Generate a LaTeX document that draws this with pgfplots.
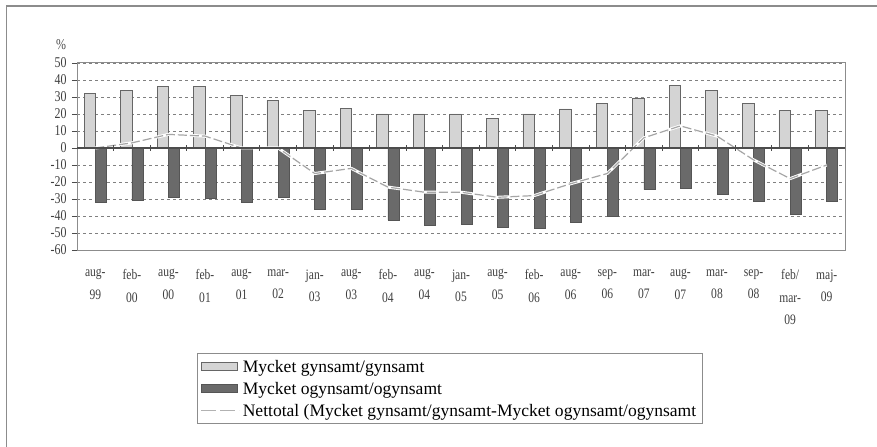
\documentclass[border=0pt]{standalone}
\usepackage{pgfplots}
\pgfplotsset{compat=1.18}
\usepackage{fontspec}
\setmainfont{Liberation Serif}
\newfontfamily\narrowfont[FakeStretch=0.8]{Liberation Serif}
\definecolor{lightbar}{HTML}{D4D4D4}
\definecolor{darkbar}{HTML}{6A6A6A}
\definecolor{frame}{HTML}{8C8C8C}
\begin{document}
\begin{tikzpicture}
\path[use as bounding box] (0bp,0bp) rectangle (877bp,447bp);
\draw[frame, line width=1.5bp] (6.5bp,0bp) -- (6.5bp,441bp) -- (877bp,441bp);
\node[font=\narrowfont\fontsize{15}{15}\selectfont, text=black!70] at (61bp,402bp) {\%};
\begin{axis}[
  at={(77bp,197bp)}, anchor=south west,
  scale only axis, width=768bp, height=187bp,
  xmin=-0.5, xmax=20.5, ymin=-60, ymax=50,
  axis line style={frame, line width=1bp},
  xtick={0,...,20},
  xticklabels={aug-\\99, feb-\\00, aug-\\00, feb-\\01, aug-\\01, mar-\\02,
    jan-\\03, aug-\\03, feb-\\04, aug-\\04, jan-\\05, aug-\\05, feb-\\06,
    aug-\\06, sep-\\06, mar-\\07, aug-\\07, mar-\\08, sep-\\08,
    feb/\\mar-\\09, maj-\\09},
  major x tick style={draw=none},
  xticklabel style={align=center, font=\narrowfont\fontsize{14.5}{22.5}\selectfont,
    text=black!75, yshift=-11bp},
  ytick={-60,-50,...,50},
  yticklabels={-60,-50,-40,-30,-20,-10,0,10,20,30,40,50},
  yticklabel style={font=\narrowfont\fontsize{15}{15}\selectfont, text=black!75, xshift=-2bp},
  ytick pos=left, tick align=outside, major tick length=5bp,
  major y tick style={black!70, line width=0.8bp},
  ymajorgrids, grid style={gray, line width=0.8bp, dash pattern=on 3bp off 3bp},
  legend style={at={(0.156,-0.551)}, anchor=north west, draw=frame,
    line width=1.2bp, font=\fontsize{17.6}{17.6}\selectfont,
    inner sep=3bp, row sep=2bp, nodes={inner sep=3.2bp}},
  legend cell align=left,
]
\addplot[ybar, bar width=11.5bp, bar shift=-5.5bp, fill=lightbar,
  draw=gray!80!black, line width=0.6bp,
  legend image code/.code={\draw[fill=lightbar, draw=gray!80!black, line width=0.6bp]
    (0bp,-4bp) rectangle (36bp,4bp);}]
  coordinates {(0,32) (1,34) (2,36) (3,36) (4,31) (5,28) (6,22) (7,23.5)
    (8,20) (9,20) (10,20) (11,17.5) (12,20) (13,23) (14,26) (15,29.5)
    (16,37) (17,34) (18,26) (19,22) (20,22)};
\addlegendentry{Mycket gynsamt/gynsamt}
\addplot[ybar, bar width=11bp, bar shift=5.5bp, fill=darkbar,
  draw=darkbar!80!black, line width=0.6bp,
  legend image code/.code={\draw[fill=darkbar, draw=darkbar!80!black, line width=0.6bp]
    (0bp,-4bp) rectangle (36bp,4bp);}]
  coordinates {(0,-32) (1,-31) (2,-29) (3,-29.5) (4,-32) (5,-29) (6,-36)
    (7,-36) (8,-42.5) (9,-45.5) (10,-45) (11,-46.5) (12,-47) (13,-44)
    (14,-40) (15,-24.5) (16,-23.5) (17,-27) (18,-31.5) (19,-39) (20,-31.5)};
\addlegendentry{Mycket ogynsamt/ogynsamt}
\addplot[sharp plot, white, line width=3bp, forget plot]
  coordinates {(0,0) (1,3) (2,8) (3,7) (4,0) (5,0) (6,-15) (7,-12) (8,-23)
    (9,-26) (10,-26) (11,-29) (12,-28) (13,-21) (14,-15) (15,6) (16,13)
    (17,7) (18,-7) (19,-18) (20,-10)};
\addplot[sharp plot, gray!70, line width=1.2bp, dash pattern=on 9bp off 3bp,
  legend image code/.code={\draw[gray!60, line width=1.2bp, dash pattern=on 15bp off 4bp]
    (0bp,0bp) -- (38bp,0bp);}]
  coordinates {(0,0) (1,3) (2,8) (3,7) (4,0) (5,0) (6,-15) (7,-12) (8,-23)
    (9,-26) (10,-26) (11,-29) (12,-28) (13,-21) (14,-15) (15,6) (16,13)
    (17,7) (18,-7) (19,-18) (20,-10)};
\addlegendentry{Nettotal (Mycket gynsamt/gynsamt-Mycket ogynsamt/ogynsamt}
\draw[black!70, line width=1.2bp] (axis cs:-0.5,0) -- (axis cs:20.5,0);
\pgfplotsinvokeforeach{0,...,20}{
  \draw[black!70, line width=0.8bp] ([yshift=-3bp]axis cs:#1+0.5,0) -- ([yshift=3bp]axis cs:#1+0.5,0);
}
\end{axis}
\end{tikzpicture}
\end{document}
